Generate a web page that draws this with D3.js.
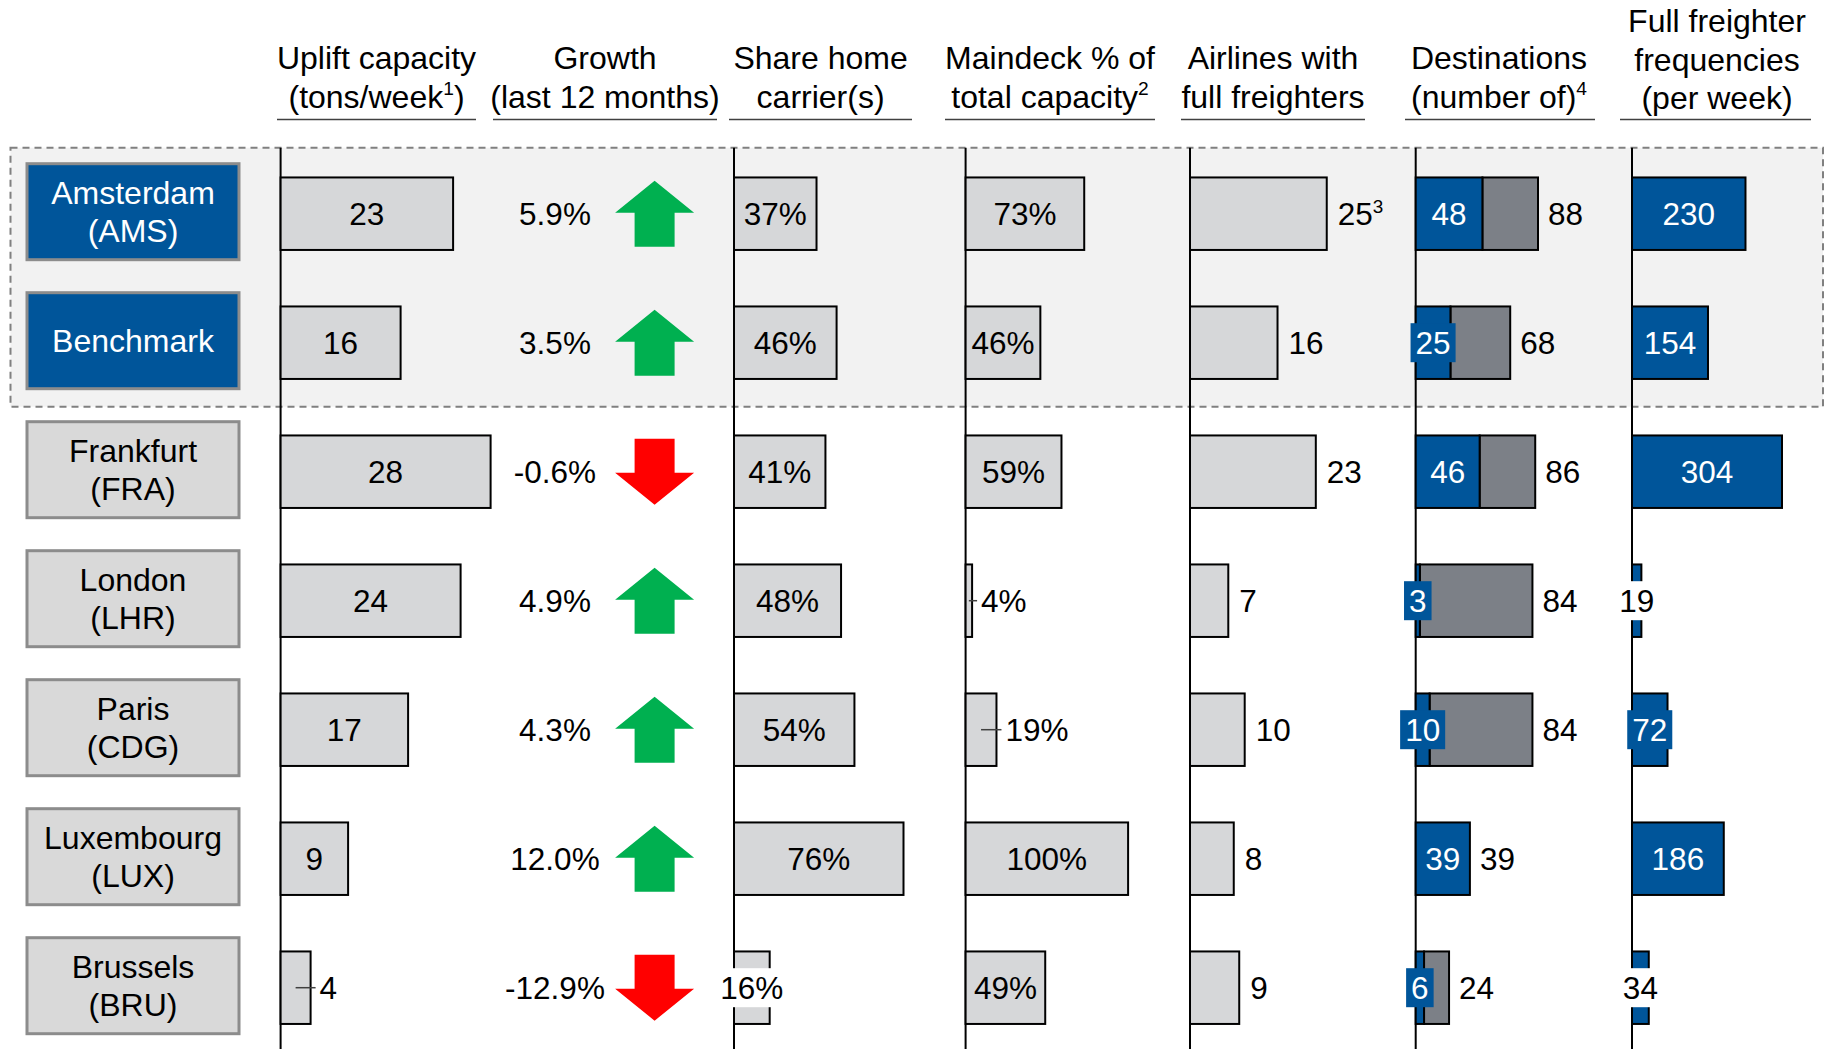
<!DOCTYPE html>
<html>
<head>
<meta charset="utf-8">
<script src="https://cdn.jsdelivr.net/npm/d3@7"></script>
<style>
  body { margin: 0; background: #fff; }
  svg text { font-family: "Liberation Sans", Arial, sans-serif; }
</style>
</head>
<body>
<svg id="chart" width="1833" height="1049"></svg>
<script>
// ---- data ----
var cities = ["Amsterdam", "Benchmark", "Frankfurt", "London", "Paris", "Luxembourg", "Brussels"];
var codes = ["AMS", "", "FRA", "LHR", "CDG", "LUX", "BRU"];
var highlighted = [true, true, false, false, false, false, false];

var uplift = [23, 16, 28, 24, 17, 9, 4];               // tons/week
var growth = [5.9, 3.5, -0.6, 4.9, 4.3, 12.0, -12.9];  // % last 12 months
var shareHome = [37, 46, 41, 48, 54, 76, 16];          // %
var maindeck = [73, 46, 59, 4, 19, 100, 49];           // %
var airlines = [25, 16, 23, 7, 10, 8, 9];
var airlineNotes = ["3", "", "", "", "", "", ""];
var destHome = [48, 25, 46, 3, 10, 39, 6];
var destTotal = [88, 68, 86, 84, 84, 39, 24];
var frequencies = [230, 154, 304, 19, 72, 186, 34];

var headers = [
    ["Uplift capacity", "(tons/week^1)"],
    ["Growth", "(last 12 months)"],
    ["Share home", "carrier(s)"],
    ["Maindeck % of", "total capacity^2"],
    ["Airlines with", "full freighters"],
    ["Destinations", "(number of)^4"],
    ["Full freighter", "frequencies", "(per week)"]
];

// ---- layout ----
var BLUE = "#00559a", DARK = "#7c8087", LIGHT = "#d6d7d9", BOXGREY = "#d9d9d9";
var fontV = 31.5, fontH = 32;
var barH = 72.5;

var svg = d3.select("#chart");

var y = d3.scalePoint()
    .domain(d3.range(cities.length))
    .range([213.7, 987.7]);

// header column centres and underline extents
var headCols = [
    {cx: 376.5, u: [277, 476]},
    {cx: 605, u: [493, 717]},
    {cx: 820.6, u: [729, 912]},
    {cx: 1050, u: [945, 1155]},
    {cx: 1273, u: [1181, 1365]},
    {cx: 1499, u: [1405, 1595]},
    {cx: 1717, u: [1620, 1811]}
];

var xUplift = d3.scaleLinear().domain([0, 28]).range([280.6, 490.6]);
var xShare = d3.scaleLinear().domain([0, 76]).range([734, 903.5]);
var xMain = d3.scaleLinear().domain([0, 100]).range([965.6, 1128.1]);
var xAir = d3.scaleLinear().domain([0, 25]).range([1190, 1326.75]);
var xDest = d3.scaleLinear().domain([0, 88]).range([1415.7, 1538]);
var xFreq = d3.scaleLinear().domain([0, 304]).range([1632, 1782]);

// text with a ^ superscript marker
function richText(sel, str, size) {
    var parts = str.split("^");
    sel.append("tspan").text(parts[0]);
    if (parts.length > 1) {
        sel.append("tspan")
            .attr("font-size", size * 0.6)
            .attr("dy", -size * 0.38)
            .text(parts[1].charAt(0));
        if (parts[1].length > 1) {
            sel.append("tspan").attr("dy", size * 0.38).text(parts[1].slice(1));
        }
    }
}

// highlight box behind AMS + benchmark
var hlTop = y(0) - 66, hlBot = y(1) + 64;
svg.append("rect")
    .attr("x", 10.5).attr("y", hlTop)
    .attr("width", 1812.5).attr("height", hlBot - hlTop)
    .attr("fill", "#f2f2f2")
    .attr("stroke", "#808080")
    .attr("stroke-width", 2)
    .attr("stroke-dasharray", "7,5");

// headers
headCols.forEach(function (c, i) {
    var lines = headers[i];
    var last = lines.length === 3 ? 109 : 107.5;
    lines.forEach(function (l, j) {
        var base = last - (lines.length - 1 - j) * 38.5;
        var t = svg.append("text")
            .attr("x", c.cx).attr("y", base)
            .attr("text-anchor", "middle")
            .attr("font-size", fontH)
            .attr("fill", "#000");
        richText(t, l, fontH);
    });
    svg.append("line")
        .attr("x1", c.u[0]).attr("x2", c.u[1])
        .attr("y1", 119.5).attr("y2", 119.5)
        .attr("stroke", "#404040").attr("stroke-width", 1.5);
});

// row label boxes
var rows = svg.selectAll(".rowlabel")
    .data(cities)
    .enter().append("g")
    .attr("class", "rowlabel")
    .attr("transform", function (d, i) { return "translate(0," + (y(i) - 2) + ")"; });

rows.append("rect")
    .attr("x", 27).attr("y", -48)
    .attr("width", 212).attr("height", 96)
    .attr("fill", function (d, i) { return highlighted[i] ? BLUE : BOXGREY; })
    .attr("stroke", "#8c8c8c")
    .attr("stroke-width", 3);

rows.each(function (d, i) {
    var g = d3.select(this);
    var lines = codes[i] ? [d, "(" + codes[i] + ")"] : [d];
    lines.forEach(function (l, j) {
        g.append("text")
            .attr("x", 133)
            .attr("y", (j - (lines.length - 1) / 2) * 38.5)
            .attr("dy", "0.35em")
            .attr("text-anchor", "middle")
            .attr("font-size", fontH)
            .attr("fill", highlighted[i] ? "#fff" : "#000")
            .text(l);
    });
});

// column axis lines
[xUplift, xShare, xMain, xAir, xDest, xFreq].forEach(function (s) {
    svg.append("line")
        .attr("x1", s(0)).attr("x2", s(0))
        .attr("y1", hlTop).attr("y2", 1049)
        .attr("stroke", "#000").attr("stroke-width", 2);
});

// one labelled bar segment
function drawBar(x, x0v, x1v, yc, fill, label, mode) {
    var xa = x(x0v), xb = x(x1v), bw = xb - xa;
    if (bw > 0) {
        svg.append("rect")
            .attr("x", xa).attr("y", yc - barH / 2)
            .attr("width", bw).attr("height", barH)
            .attr("fill", fill)
            .attr("stroke", "#000").attr("stroke-width", 2);
    }
    if (label === null) return;
    var light = fill === BLUE;
    var t = svg.append("text")
        .attr("x", (xa + xb) / 2).attr("y", yc)
        .attr("dy", "0.35em")
        .attr("text-anchor", "middle")
        .attr("font-size", fontV)
        .attr("fill", light ? "#fff" : "#000");
    richText(t, label, fontV);
    var tw = t.node().getComputedTextLength();
    if (bw >= Math.max(40, tw + 4)) return;

    var m = typeof mode === "function" ? mode(bw) : mode;
    if (m === "leader") {
        t.attr("x", xb + 9).attr("text-anchor", "start").attr("fill", "#000");
        svg.append("line")
            .attr("x1", (xa + xb) / 2).attr("x2", xb + 5)
            .attr("y1", yc).attr("y2", yc)
            .attr("stroke", "#404040").attr("stroke-width", 1.5);
    } else {
        var bg = m === "fill" ? fill : "#fff";
        t.attr("fill", m === "fill" && light ? "#fff" : "#000");
        svg.insert("rect", function () { return t.node(); })
            .attr("x", (xa + xb) / 2 - tw / 2 - 5)
            .attr("y", yc - 19.5)
            .attr("width", tw + 10).attr("height", 39)
            .attr("fill", bg);
    }
}

function outsideLabel(xpos, yc, label) {
    var t = svg.append("text")
        .attr("x", xpos).attr("y", yc)
        .attr("dy", "0.35em")
        .attr("font-size", fontV)
        .attr("fill", "#000");
    richText(t, label, fontV);
}

cities.forEach(function (c, i) {
    var yc = y(i);

    drawBar(xUplift, 0, uplift[i], yc, LIGHT, String(uplift[i]), "leader");

    // growth value + arrow
    svg.append("text")
        .attr("x", 555).attr("y", yc)
        .attr("dy", "0.35em")
        .attr("text-anchor", "middle")
        .attr("font-size", fontV)
        .text(growth[i].toFixed(1) + "%");
    var up = growth[i] >= 0, s = up ? 1 : -1, cx = 654.6;
    var pts = [
        [cx, yc - 33 * s], [cx + 39.5, yc - s], [cx + 20, yc - s], [cx + 20, yc + 33 * s],
        [cx - 20, yc + 33 * s], [cx - 20, yc - s], [cx - 39.5, yc - s]
    ];
    svg.append("path")
        .attr("d", d3.line()(pts) + "Z")
        .attr("fill", up ? "#00b050" : "#ff0000");

    drawBar(xShare, 0, shareHome[i], yc, LIGHT, shareHome[i] + "%", "white");
    drawBar(xMain, 0, maindeck[i], yc, LIGHT, maindeck[i] + "%", "leader");

    drawBar(xAir, 0, airlines[i], yc, LIGHT, null);
    outsideLabel(xAir(airlines[i]) + 11, yc,
        airlines[i] + (airlineNotes[i] ? "^" + airlineNotes[i] : ""));

    drawBar(xDest, destHome[i], destTotal[i], yc, DARK, null);
    drawBar(xDest, 0, destHome[i], yc, BLUE, String(destHome[i]), "fill");
    outsideLabel(xDest(destTotal[i]) + 10, yc, String(destTotal[i]));

    drawBar(xFreq, 0, frequencies[i], yc, BLUE, String(frequencies[i]),
        function (bw) { return bw >= 30 ? "fill" : "white"; });
});
</script>
</body>
</html>
